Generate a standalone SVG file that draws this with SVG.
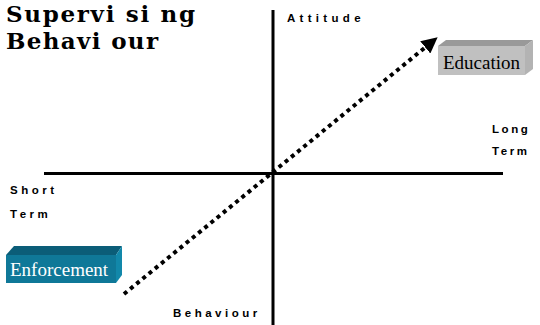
<svg xmlns="http://www.w3.org/2000/svg" width="540" height="325" viewBox="0 0 540 325">
<style>
.lbl{font-family:"Liberation Sans",Arial,sans-serif;font-weight:bold;font-size:11.5px;letter-spacing:3.5px;fill:#000}
.title{font-family:"DejaVu Serif","Liberation Serif",serif;font-weight:bold;font-size:23px;fill:#000}
.box{font-family:"Liberation Serif","Times New Roman",serif;font-size:19px}
.axis{stroke:#000;stroke-width:3;fill:none}
</style>
<defs>
<marker id="ah" markerWidth="4" markerHeight="4" refX="2.5" refY="2" orient="auto" markerUnits="strokeWidth">
<path d="M0,0 L4,2 L0,4 Z" fill="#000"/>
</marker>
</defs>
<rect width="540" height="325" fill="#fff"/>
<g id="title">
<text class="title" x="6" y="22" textLength="189" lengthAdjust="spacing">Supervi si ng</text>
<text class="title" x="6" y="49" textLength="152" lengthAdjust="spacing">Behavi our</text>
</g>
<g id="connectors">
<line class="axis" x1="273" y1="10" x2="273" y2="325"/>
<line class="axis" x1="44" y1="173.5" x2="503" y2="173.5"/>
<line x1="124" y1="294" x2="433" y2="41" stroke="#000" stroke-width="4" stroke-dasharray="4 4" marker-end="url(#ah)"/>
</g>
<g id="attitude"><text class="lbl" x="287" y="22" style="letter-spacing:4.3px">Attitude</text></g>
<g id="long-term"><text class="lbl" x="492" y="133" style="letter-spacing:2.6px">Long</text><text class="lbl" x="492" y="155" style="letter-spacing:2.6px">Term</text></g>
<g id="short-term"><text class="lbl" x="10" y="194">Short</text><text class="lbl" x="10" y="218">Term</text></g>
<g id="behaviour"><text class="lbl" x="173" y="317">Behaviour</text></g>
<g id="education">
<polygon points="438,46 446,40 533,40 525,46" fill="#999999"/>
<polygon points="525,46 533,40 533,69 525,75" fill="#b3b3b3"/>
<rect x="438" y="46" width="87" height="29" fill="#c0c0c0"/>
<text class="box" x="443" y="69" fill="#000">Education</text>
</g>
<g id="enforcement">
<polygon points="6,255 14,246 122,246 116,255" fill="#0b5d78"/>
<polygon points="116,255 122,246 122,275 116,283" fill="#1288aa"/>
<rect x="6" y="255" width="110" height="28" fill="#0f7898"/>
<text class="box" x="10" y="276" fill="#fff">Enforcement</text>
</g>
</svg>
